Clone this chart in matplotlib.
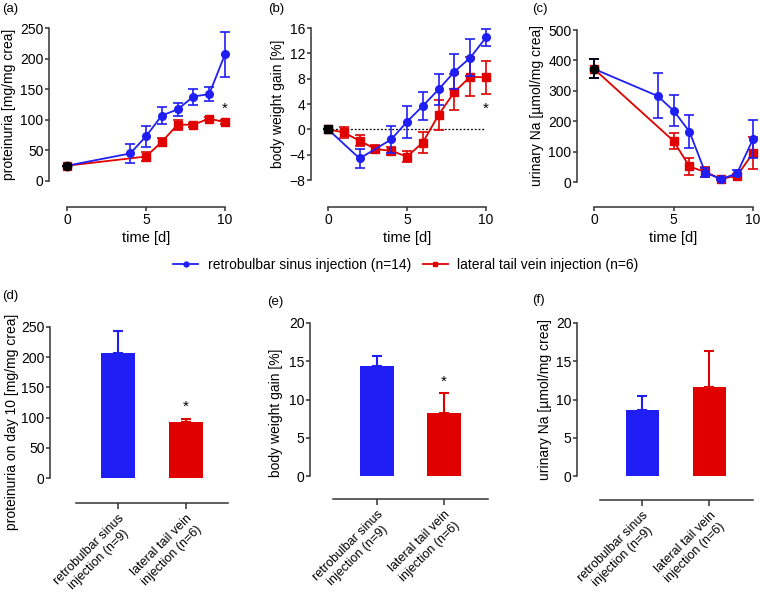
import matplotlib
matplotlib.use('Agg')
import matplotlib.pyplot as plt
import numpy as np

plt.rcParams['font.family'] = ['Liberation Sans', 'DejaVu Sans']
plt.rcParams['font.size'] = 10

BLUE = '#1f1ff5'
RED = '#e00000'
W, H = 760, 592

#---------------time course data (mean, SEM)---------------
days_retro = [0, 4, 5, 6, 7, 8, 9, 10]
days_tail = [0, 5, 6, 7, 8, 9, 10]
prot_retro = [25, 45, 73, 107, 117, 138, 142, 207]
prot_retro_err = [0, 16, 17, 14, 10, 13, 11, 37]
prot_tail = [25, 40, 64, 92, 92, 102, 96]
prot_tail_err = [0, 8, 7, 8, 3, 3, 3]

bw_days_retro = [0, 2, 4, 5, 6, 7, 8, 9, 10]
bw_retro = [0, -4.6, -1.6, 1.2, 3.7, 6.3, 9.1, 11.3, 14.5]
bw_retro_err = [0, 1.5, 2.2, 2.5, 2.2, 2.4, 2.8, 2.9, 1.3]
bw_days_tail = [0, 1, 2, 3, 4, 5, 6, 7, 8, 9, 10]
bw_tail = [0, -0.5, -1.8, -3.1, -3.4, -4.3, -2.1, 2.3, 5.9, 8.3, 8.2]
bw_tail_err = [0, 0.9, 0.9, 0.6, 0.6, 0.8, 1.6, 2.4, 2.8, 3.1, 2.6]

na_retro = [372, 283, 235, 166, 31, 9, 29, 141]
na_retro_err = [31, 74, 52, 55, 14, 4, 10, 63]
na_tail = [372, 135, 51, 33, 10, 21, 95]
na_tail_err = [31, 27, 27, 17, 4, 6, 53]

#---------------bar data---------------
groups = ['retrobulbar sinus\ninjection (n=9)', 'lateral tail vein\ninjection (n=6)']
prot_day10 = [207, 93]
prot_day10_err = [37, 5]
bw_gain = [14.4, 8.2]
bw_gain_err = [1.3, 2.6]
na_day10 = [8.6, 11.6]
na_day10_err = [1.9, 4.7]

legend_labels = ['retrobulbar sinus injection (n=14)', 'lateral tail vein injection (n=6)']


def px_axes(fig, l, t, r, b):
    return fig.add_axes([l / W, 1 - b / H, (r - l) / W, (b - t) / H])


def style_axes(ax, left_off, bottom_off, ylim, xlim):
    for s in ['top', 'right']:
        ax.spines[s].set_visible(False)
    ax.spines['left'].set_position(('outward', left_off * 72 / 100))
    ax.spines['bottom'].set_position(('outward', bottom_off * 72 / 100))
    for s in ['left', 'bottom']:
        ax.spines[s].set_linewidth(1.1)
        ax.spines[s].set_color('#333333')
    ax.set_ylim(*ylim)
    ax.set_xlim(*xlim)
    ax.spines['left'].set_bounds(*ylim)
    ax.tick_params(direction='out', length=3, width=1.1, color='#333333', labelsize=10, pad=1)
    ax.patch.set_visible(False)


def line_panel(ax, xr, yr, er, xt, yt, et, start_marker):
    ax.errorbar(xr, yr, yerr=er, color=BLUE, marker='o', ms=5.5, lw=1.3,
                ecolor=BLUE, elinewidth=1.2, capsize=3.3, capthick=1.2, clip_on=False, zorder=3)
    ax.errorbar(xt, yt, yerr=et, color=RED, marker='s', ms=5.5, lw=1.3,
                ecolor=RED, elinewidth=1.2, capsize=3.3, capthick=1.2, clip_on=False, zorder=2)
    ax.errorbar(xr[0], yr[0], yerr=er[0], color='black', marker=start_marker, ms=6,
                elinewidth=1.2, capsize=3.3, capthick=1.2, clip_on=False, zorder=4)
    ax.set_xticks([0, 5, 10])
    ax.spines['bottom'].set_bounds(0, 10)
    ax.set_xlabel('time [d]', fontsize=10.5, labelpad=3)


def bar_panel(ax, vals, errs):
    x = np.arange(len(vals))
    ax.bar(x, vals, width=0.5, color=[BLUE, RED], zorder=2)
    for i in range(len(vals)):
        ax.errorbar(x[i], vals[i], yerr=[[0], [errs[i]]], color=[BLUE, RED][i],
                    elinewidth=1.5, capsize=3.3, capthick=1.5, zorder=1)
    ax.set_xticks(x)
    ax.set_xticklabels(groups, rotation=45, ha='right', va='top',
                       rotation_mode='anchor', multialignment='center', fontsize=9)
    ax.tick_params(axis='x', length=4, pad=3)


fig = plt.figure(figsize=(7.6, 5.92), dpi=100)

# (a)
ax = px_axes(fig, 67, 28, 225, 181)
style_axes(ax, 18, 26, (0, 250), (0, 10))
line_panel(ax, days_retro, prot_retro, prot_retro_err, days_tail, prot_tail, prot_tail_err, 'o')
ax.set_yticks(np.arange(0, 251, 50))
ax.set_ylabel('proteinuria [mg/mg crea]', fontsize=10, labelpad=3)
ax.text(days_tail[-1], prot_tail[-1] + prot_tail_err[-1] + 8, '*', ha='center', va='bottom', fontsize=11)
fig.text(2 / W, 1 - 9 / H, '(a)', fontsize=9.5, va='center')

# (b)
ax = px_axes(fig, 328, 28, 486, 180)
style_axes(ax, 17, 27, (-8, 16), (0, 10))
ax.plot([0, 10], [0, 0], color='black', lw=0.9, ls=(0, (1.5, 1.5)), zorder=1)
line_panel(ax, bw_days_retro, bw_retro, bw_retro_err, bw_days_tail, bw_tail, bw_tail_err, 's')
ax.set_yticks(np.arange(-8, 17, 4))
ax.set_ylabel('body weight gain [%]', fontsize=10, labelpad=3)
ax.text(bw_days_tail[-1], bw_tail[-1] - bw_tail_err[-1] - 1.2, '*', ha='center', va='top', fontsize=11)
fig.text(268 / W, 1 - 9 / H, '(b)', fontsize=9.5, va='center')

# (c)
ax = px_axes(fig, 594, 30, 753, 182)
style_axes(ax, 17, 25, (0, 500), (0, 10))
line_panel(ax, days_retro, na_retro, na_retro_err, days_tail, na_tail, na_tail_err, 'o')
ax.set_yticks(np.arange(0, 501, 100))
ax.set_ylabel('urinary Na [µmol/mg crea]', fontsize=10, labelpad=3)
fig.text(532 / W, 1 - 9 / H, '(c)', fontsize=9.5, va='center')

# legend
h1, = plt.plot([], [], color=BLUE, marker='o', ms=3.5, lw=1.3)
h2, = plt.plot([], [], color=RED, marker='s', ms=3.5, lw=1.3)
fig.legend([h1, h2], legend_labels, loc='center', bbox_to_anchor=(406 / W, 1 - 265 / H),
           ncol=2, frameon=False, fontsize=10, handlelength=1.8, columnspacing=0.8, handletextpad=0.7)

# (d)
ax = px_axes(fig, 76, 327, 228, 478)
style_axes(ax, 26, 25, (0, 250), (-0.62, 1.62))
bar_panel(ax, prot_day10, prot_day10_err)
ax.set_yticks(np.arange(0, 251, 50))
ax.set_ylabel('proteinuria on day 10 [mg/mg crea]', fontsize=10)
ax.yaxis.set_label_coords(-0.375, 0.37)
ax.text(1, prot_day10[1] + prot_day10_err[1] + 8, '*', ha='center', va='bottom', fontsize=11)
fig.text(2 / W, 1 - 296 / H, '(d)', fontsize=9.5, va='center')

# (e)
ax = px_axes(fig, 333, 323, 488, 476)
style_axes(ax, 23, 23, (0, 20), (-0.66, 1.66))
bar_panel(ax, bw_gain, bw_gain_err)
ax.set_yticks(np.arange(0, 21, 5))
ax.set_ylabel('body weight gain [%]', fontsize=10)
ax.yaxis.set_label_coords(-0.32, 0.41)
ax.text(1, bw_gain[1] + bw_gain_err[1] + 0.6, '*', ha='center', va='bottom', fontsize=11)
fig.text(267 / W, 1 - 302 / H, '(e)', fontsize=9.5, va='center')

# (f)
ax = px_axes(fig, 600, 323, 753, 476)
style_axes(ax, 23, 24, (0, 20), (-0.63, 1.65))
bar_panel(ax, na_day10, na_day10_err)
ax.set_yticks(np.arange(0, 21, 5))
ax.set_ylabel('urinary Na [µmol/mg crea]', fontsize=10, labelpad=3)
fig.text(532 / W, 1 - 300 / H, '(f)', fontsize=9.5, va='center')

plt.savefig('out.png', dpi=100)
